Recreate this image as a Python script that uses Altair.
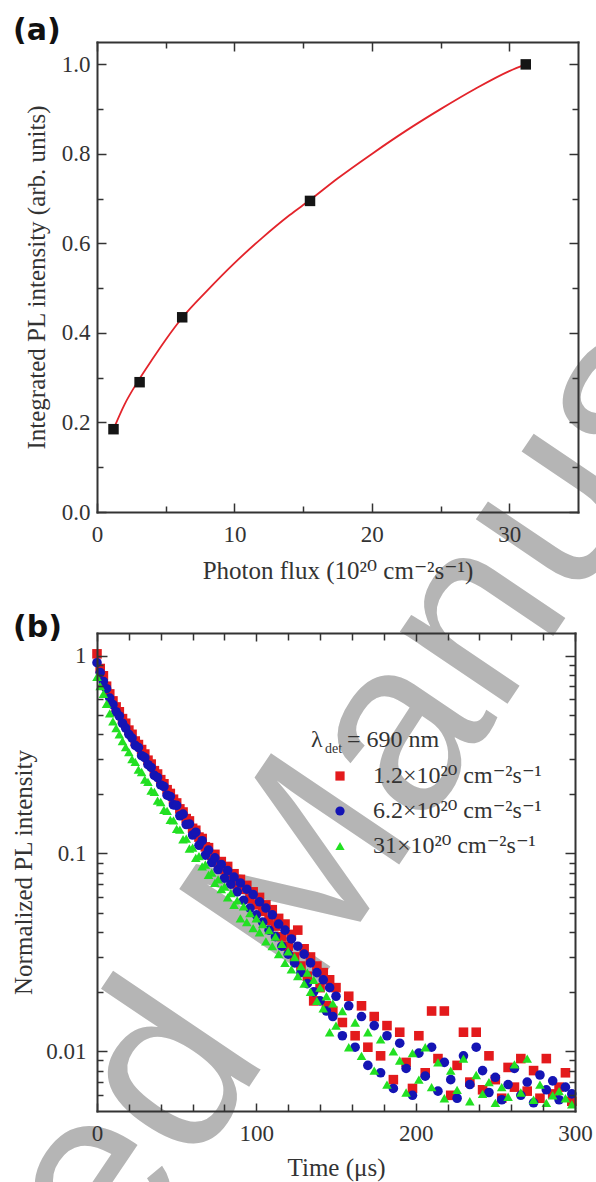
import altair as alt
import pandas as pd

SERIF = "Liberation Serif, DejaVu Serif"
SANS = "Liberation Sans"
TAGFONT = "DejaVu Sans"
INK = "#333333"

# ---------------- panel (a) data ----------------
flux = [1.2, 3.1, 6.2, 15.5, 31.2]
pl_int = [0.185, 0.29, 0.435, 0.695, 1.0]
fit_flux = [1.2, 2, 3, 4, 5, 6.2, 8, 10, 12, 14, 15.5, 17.5, 20, 22.5, 25, 27.5, 30, 31.2]
fit_int = [0.185, 0.24, 0.293, 0.340, 0.385, 0.434, 0.494, 0.556, 0.612, 0.663, 0.697,
           0.745, 0.80, 0.852, 0.90, 0.945, 0.985, 1.0]

# ---------------- panel (b) data ----------------
time_us = [0, 2, 4, 6, 8, 10, 12, 14, 16, 18, 20, 22, 24, 26, 28, 30, 32, 34, 36, 38,
           40, 42, 44, 46, 48, 50, 52, 54, 56, 58, 60, 62, 64, 66, 68, 70, 72, 74, 76, 78,
           80, 82, 84, 86, 88, 90, 92, 94, 96, 98, 100, 102, 104, 106, 108, 110, 112, 114,
           116, 118, 120, 122, 124, 126, 128, 130, 132, 134, 136, 138, 140, 142, 144, 146,
           148, 150, 154, 158, 162, 166, 170, 174, 178, 182, 186, 190, 194, 198, 202, 206,
           210, 214, 218, 222, 226, 230, 234, 238, 242, 246, 250, 254, 258, 262, 266, 270,
           274, 278, 282, 286, 290, 294, 298]

red_pl = [1.02, 0.86, 0.79, 0.70, 0.64, 0.59, 0.55, 0.52, 0.48, 0.455,
          0.42, 0.40, 0.37, 0.355, 0.335, 0.318, 0.296, 0.283, 0.262, 0.252,
          0.236, 0.225, 0.210, 0.201, 0.188, 0.180, 0.168, 0.162, 0.150, 0.146,
          0.134, 0.131, 0.121, 0.119, 0.108, 0.107, 0.098, 0.099, 0.090, 0.091,
          0.083, 0.086, 0.077, 0.079, 0.070, 0.074, 0.066, 0.069, 0.059, 0.064,
          0.055, 0.060, 0.051, 0.055, 0.046, 0.052, 0.043, 0.047, 0.038, 0.044,
          0.034, 0.039, 0.030, 0.041, 0.027, 0.033, 0.024, 0.030, 0.018, 0.027,
          0.021, 0.025, 0.017, 0.023, 0.016,
          0.021, 0.014, 0.019, 0.012, 0.017, 0.0105, 0.015, 0.0095, 0.0135, 0.0072,
          0.0125, 0.0088, 0.0065, 0.0120, 0.0078, 0.0160, 0.0092, 0.0160, 0.0060, 0.0085,
          0.0125, 0.0070, 0.0125, 0.0064, 0.0095, 0.0072, 0.0058, 0.0083, 0.0066, 0.0092,
          0.0063, 0.0080, 0.0058, 0.0092, 0.0061, 0.0066, 0.0078, 0.0056]

blue_pl = [0.92, 0.82, 0.74, 0.68, 0.61, 0.565, 0.52, 0.495, 0.455, 0.43,
           0.40, 0.383, 0.352, 0.343, 0.312, 0.305, 0.281, 0.272, 0.248, 0.242,
           0.222, 0.218, 0.197, 0.194, 0.176, 0.175, 0.155, 0.158, 0.140, 0.141,
           0.124, 0.128, 0.110, 0.116, 0.098, 0.104, 0.090, 0.095, 0.083, 0.088,
           0.075, 0.082, 0.070, 0.076, 0.064, 0.071, 0.058, 0.066, 0.053, 0.062,
           0.049, 0.057, 0.045, 0.053, 0.041, 0.049, 0.038, 0.044, 0.034, 0.041,
           0.031, 0.037, 0.028, 0.034, 0.025, 0.031, 0.022, 0.028, 0.020, 0.025,
           0.018, 0.023, 0.016, 0.021, 0.015,
           0.019, 0.012, 0.017, 0.0105, 0.015, 0.0085, 0.0135, 0.0078, 0.0120, 0.0065,
           0.0110, 0.0082, 0.0060, 0.0098, 0.0075, 0.0105, 0.0063, 0.0088, 0.0072, 0.0058,
           0.0095, 0.0068, 0.0105, 0.0080, 0.0062, 0.0074, 0.0057, 0.0068, 0.0082, 0.0060,
           0.0070, 0.0055, 0.0076, 0.0064, 0.0071, 0.0057, 0.0066, 0.0061]

green_pl = [0.78, 0.70, 0.64, 0.57, 0.51, 0.465, 0.43, 0.40, 0.37, 0.345,
            0.325, 0.30, 0.29, 0.265, 0.258, 0.236, 0.23, 0.208, 0.205, 0.185,
            0.182, 0.166, 0.164, 0.148, 0.147, 0.133, 0.132, 0.118, 0.119, 0.106,
            0.107, 0.095, 0.097, 0.086, 0.088, 0.078, 0.080, 0.071, 0.074, 0.066,
            0.068, 0.060, 0.063, 0.055, 0.058, 0.047, 0.054, 0.045, 0.050, 0.042,
            0.047, 0.040, 0.044, 0.036, 0.041, 0.034, 0.038, 0.031, 0.035, 0.028,
            0.032, 0.026, 0.030, 0.024, 0.027, 0.022, 0.025, 0.020, 0.023, 0.018,
            0.021, 0.0165, 0.019, 0.0125, 0.0175,
            0.0135, 0.0160, 0.0105, 0.0140, 0.0095, 0.0125, 0.0080, 0.0115, 0.0068, 0.0100,
            0.0090, 0.0062, 0.0098, 0.0072, 0.0105, 0.0066, 0.0088, 0.0058, 0.0080, 0.0064,
            0.0092, 0.0056, 0.0076, 0.0061, 0.0070, 0.0055, 0.0066, 0.0059, 0.0086, 0.0062,
            0.0092, 0.0057, 0.0068, 0.0055, 0.0060, 0.0063, 0.0058, 0.0054]

series_names = ["1.2×10²⁰  cm⁻²s⁻¹", "6.2×10²⁰  cm⁻²s⁻¹", "31×10²⁰  cm⁻²s⁻¹"]
series_colors = ["#e31a1c", "#1414b4", "#22e022"]
series_shapes = ["square", "circle", "triangle-up"]

WATERMARK = "Accepted Manuscript"

# ---------------- layout ----------------
W_A, H_A = 481, 470
W_B, H_B = 478, 478
GAP = 121
B_TOP = H_A + GAP  # offset of panel (b) from the root origin

xa = alt.Scale(domain=[0, 35], nice=False, zero=False)
ya = alt.Scale(domain=[0, 1.05], nice=False, zero=False)
xb = alt.Scale(domain=[0, 300], nice=False, zero=False)
yb = alt.Scale(type="log", domain=[0.005, 1.3], nice=False)


def lab_axis(orient, values, title, pad, tpad, fmt=None):
    kw = dict(orient=orient, values=values, title=title, labelPadding=pad,
              titlePadding=tpad, labelFont=SERIF, labelFontSize=23, labelColor=INK,
              labelFlush=False, labelOverlap=False, titleFont=SERIF, titleFontSize=25,
              titleFontWeight="normal", titleColor=INK, grid=False, ticks=False,
              tickSize=0, domain=False, zindex=1)
    if fmt:
        kw["format"] = fmt
    return alt.Axis(**kw)


def tick_axis(orient, offset, values, size, domain=False):
    kw = dict(orient=orient, offset=offset, values=values, labels=False, ticks=True,
              tickSize=size, tickWidth=1.5, tickColor=INK, grid=False, title=None,
              zindex=1, domain=domain)
    if domain:
        kw.update(domainColor=INK, domainWidth=2, domainCap="square")
    return alt.Axis(**kw)


def tick_layers(df, xf, yf, xs, ys, W, H, xmaj, xmin, ymaj, ymin, xbig, xsmall, ybig, ysmall):
    specs = [
        (tick_axis("top", -H, xmaj, xbig, True), tick_axis("right", -W, ymaj, ybig, True)),
        (tick_axis("top", -H, xmin, xsmall), tick_axis("right", -W, ymin, ysmall)),
        (tick_axis("bottom", -H, xmaj, xbig, True), tick_axis("left", -W, ymaj, ybig, True)),
        (tick_axis("bottom", -H, xmin, xsmall), tick_axis("left", -W, ymin, ysmall)),
    ]
    out = []
    for ax, ay in specs:
        out.append(alt.Chart(df).mark_point(opacity=0).encode(
            x=alt.X(xf, scale=xs, axis=ax), y=alt.Y(yf, scale=ys, axis=ay)))
    return out


one = pd.DataFrame({"k": [0]})

# ---------------- panel (a) ----------------
df_a = pd.DataFrame({"P": flux, "I": pl_int})
df_fit = pd.DataFrame({"P": fit_flux, "I": fit_int})

watermark = alt.Chart(pd.DataFrame({"w": [WATERMARK]})).mark_text(
    font=SANS, fontSize=245, color="#b5b5b5", angle=304, align="center",
    baseline="alphabetic").encode(text="w:N", x=alt.value(241), y=alt.value(913))

fit_line = alt.Chart(df_fit).mark_line(color="#e3242b", strokeWidth=1.8,
                                       interpolate="monotone").encode(
    x=alt.X("P:Q", scale=xa, axis=lab_axis("bottom", [0, 10, 20, 30],
                                           "Photon flux (10²⁰ cm⁻²s⁻¹)", 11, 12)),
    y=alt.Y("I:Q", scale=ya, axis=lab_axis("left", [0, 0.2, 0.4, 0.6, 0.8, 1.0],
                                           "Integrated PL intensity (arb. units)", 7, 12, ".1f")))

pts_a = alt.Chart(df_a).mark_square(size=110, color="#151515", opacity=1).encode(
    x=alt.X("P:Q", scale=xa, axis=None), y=alt.Y("I:Q", scale=ya, axis=None))

ticks_a = tick_layers(df_a, "P:Q", "I:Q", xa, ya, W_A, H_A,
                      [0, 10, 20, 30], [5, 15, 25],
                      [0, 0.2, 0.4, 0.6, 0.8, 1.0], [0.1, 0.3, 0.5, 0.7, 0.9],
                      9, 6, 9, 6)

tag_a = alt.Chart(one).mark_text(text="(a)", font=TAGFONT, fontWeight="bold", fontSize=30,
                                 align="left", baseline="alphabetic", color="#111111").encode(
    x=alt.value(-84), y=alt.value(-2))

panel_a = alt.layer(watermark, fit_line, pts_a, *ticks_a, tag_a).resolve_axis(
    x="independent", y="independent").properties(width=W_A, height=H_A)

# ---------------- panel (b) ----------------
n = len(time_us)
df_b = pd.DataFrame({
    "t": time_us * 3,
    "v": red_pl + blue_pl + green_pl,
    "s": [series_names[0]] * n + [series_names[1]] * n + [series_names[2]] * n,
})

leg = alt.Legend(orient="none", legendX=231, legendY=131 + B_TOP, title=None,
                 labelFont=SERIF, labelFontSize=24, labelColor=INK, labelOffset=21,
                 labelLimit=400, symbolSize=85, rowPadding=11, symbolStrokeWidth=0,
                 padding=0, zindex=2)

pts_b = alt.Chart(df_b).mark_point(filled=True, size=92, opacity=1, strokeWidth=0).encode(
    x=alt.X("t:Q", scale=xb, axis=lab_axis("bottom", [0, 100, 200, 300], "Time (μs)", 11, 10)),
    y=alt.Y("v:Q", scale=yb, axis=lab_axis("left", [0.01, 0.1, 1],
                                           "Normalized PL intensity", 11, 9, "~g")),
    color=alt.Color("s:N", scale=alt.Scale(domain=series_names, range=series_colors), legend=leg),
    shape=alt.Shape("s:N", scale=alt.Scale(domain=series_names, range=series_shapes), legend=leg),
)

df_tb = pd.DataFrame({"t": [50], "v": [0.1]})
ticks_b = tick_layers(df_tb, "t:Q", "v:Q", xb, yb, W_B, H_B,
                      [0, 100, 200, 300],
                      [20, 40, 60, 80, 120, 140, 160, 180, 220, 240, 260, 280],
                      [0.01, 0.1, 1],
                      [0.006, 0.007, 0.008, 0.009, 0.02, 0.03, 0.04, 0.05, 0.06, 0.07, 0.08,
                       0.09, 0.2, 0.3, 0.4, 0.5, 0.6, 0.7, 0.8, 0.9],
                      8, 7, 10, 6)

lam = alt.Chart(one).mark_text(text="λ", font=SERIF, fontSize=24, align="left",
                               baseline="alphabetic", color=INK).encode(
    x=alt.value(214), y=alt.value(114))
lam_sub = alt.Chart(one).mark_text(text="det", font=SERIF, fontSize=14, align="left",
                                   baseline="alphabetic", color=INK).encode(
    x=alt.value(228), y=alt.value(120))
lam_val = alt.Chart(one).mark_text(text="= 690 nm", font=SERIF, fontSize=24, align="left",
                                   baseline="alphabetic", color=INK).encode(
    x=alt.value(250), y=alt.value(114))

tag_b = alt.Chart(one).mark_text(text="(b)", font=TAGFONT, fontWeight="bold", fontSize=30,
                                 align="left", baseline="alphabetic", color="#111111").encode(
    x=alt.value(-84), y=alt.value(4))

panel_b = alt.layer(pts_b, *ticks_b, lam, lam_sub, lam_val, tag_b).resolve_axis(
    x="independent", y="independent").properties(width=W_B, height=H_B)

chart = alt.vconcat(panel_a, panel_b, spacing=GAP, bounds="flush").properties(
    autosize=alt.AutoSizeParams(type="none"),
    padding={"left": 97, "top": 42, "right": 499, "bottom": 1140},
    background="white",
).configure_view(stroke="transparent")

chart.save("out.html", embed_options={"renderer": "svg", "actions": False})
